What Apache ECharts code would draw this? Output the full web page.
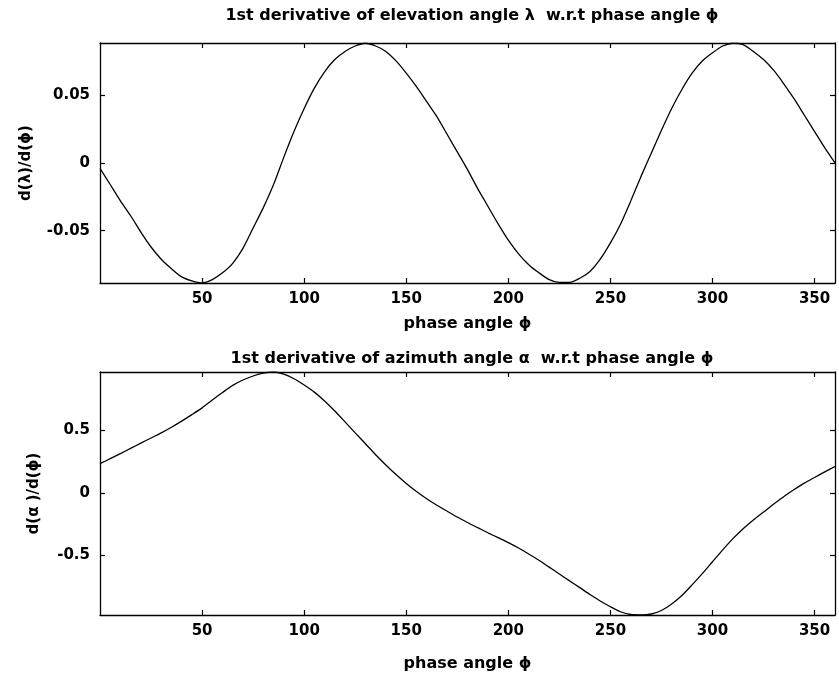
<!DOCTYPE html>
<html>
<head>
<meta charset="utf-8">
<script src="https://cdn.jsdelivr.net/npm/echarts@6/dist/echarts.min.js"></script>
<style>
  html, body { margin: 0; padding: 0; background: #fff; }
  #chart { width: 839px; height: 677px; }
</style>
</head>
<body>
<div id="chart"></div>
<script>
// phase angle (deg) and the two derivative curves
var elevPhase = [0, 5, 10, 15, 20, 25, 30, 35, 40, 45, 50, 55, 60, 65, 70, 75, 80, 85, 90, 95,
  100, 105, 110, 115, 120, 125, 130, 135, 140, 145, 150, 155, 160, 165, 170, 175, 180, 185, 190, 195,
  200, 205, 210, 215, 220, 225, 230, 235, 240, 245, 250, 255, 260, 265, 270, 275, 280, 285, 290, 295,
  300, 305, 310, 315, 320, 325, 330, 335, 340, 345, 350, 355, 360];
var elevRate = [-0.004, -0.016, -0.028, -0.039, -0.051, -0.062, -0.071, -0.078, -0.084, -0.087,
  -0.0885, -0.086, -0.081, -0.074, -0.063, -0.048, -0.033, -0.016, 0.004, 0.023,
  0.040, 0.055, 0.067, 0.076, 0.082, 0.086, 0.088, 0.086, 0.082, 0.075,
  0.066, 0.056, 0.045, 0.034, 0.021, 0.008, -0.005, -0.019, -0.032, -0.045,
  -0.057, -0.067, -0.075, -0.081, -0.086, -0.088, -0.088, -0.085, -0.080, -0.071,
  -0.059, -0.045, -0.028, -0.010, 0.007, 0.024, 0.040, 0.054, 0.066, 0.075,
  0.081, 0.086, 0.088, 0.087, 0.082, 0.076, 0.068, 0.058, 0.047, 0.035,
  0.023, 0.011, 0.000];

var azimPhase = elevPhase;
var azimRate = [0.235, 0.275, 0.316, 0.358, 0.400, 0.441, 0.482, 0.527, 0.576, 0.628,
  0.682, 0.745, 0.805, 0.862, 0.905, 0.937, 0.960, 0.969, 0.952, 0.915,
  0.865, 0.808, 0.737, 0.657, 0.570, 0.482, 0.395, 0.307, 0.225, 0.148,
  0.077, 0.013, -0.045, -0.097, -0.145, -0.192, -0.236, -0.277, -0.318, -0.357,
  -0.397, -0.440, -0.488, -0.538, -0.593, -0.648, -0.703, -0.757, -0.812, -0.864,
  -0.910, -0.950, -0.972, -0.975, -0.968, -0.940, -0.888, -0.820, -0.735, -0.645,
  -0.550, -0.455, -0.365, -0.285, -0.215, -0.152, -0.088, -0.027, 0.028, 0.080,
  0.125, 0.170, 0.213];

var xTicks = [50, 100, 150, 200, 250, 300, 350];
var elevTicks = [-0.05, 0, 0.05];
var azimTicks = [-0.5, 0, 0.5];

var titles = [
  "1st derivative of elevation angle \u03bb  w.r.t phase angle \u03d5",
  "1st derivative of azimuth angle \u03b1  w.r.t phase angle \u03d5"
];
var xName = "phase angle \u03d5";
var yNames = ["d(\u03bb)/d(\u03d5)", "d(\u03b1 )/d(\u03d5)"];

var FONT = "DejaVu Sans";

function zip(xs, ys) {
  return xs.map(function (x, i) { return [x, ys[i]]; });
}

function xAxisFor(grid, pos, withLabels, gap) {
  return {
    type: "value", gridIndex: grid, position: pos, min: 0, max: 360,
    name: withLabels ? xName : "", nameLocation: "middle", nameGap: gap,
    nameTextStyle: { color: "#000", fontFamily: FONT, fontWeight: "bold", fontSize: 16 },
    axisLine: { show: true, onZero: false, lineStyle: { color: "#000", width: 1.3 } },
    axisTick: { show: true, inside: true, length: 5, customValues: xTicks,
      lineStyle: { color: "#000", width: 1.2 } },
    axisLabel: { show: withLabels, customValues: xTicks, margin: 9, color: "#000",
      fontFamily: FONT, fontWeight: "bold", fontSize: 15 },
    splitLine: { show: false }
  };
}

function yAxisFor(grid, pos, lo, hi, ticks, withLabels, name, gap) {
  return {
    type: "value", gridIndex: grid, position: pos, min: lo, max: hi,
    name: withLabels ? name : "", nameLocation: "middle", nameGap: gap, nameRotate: 90,
    nameTextStyle: { color: "#000", fontFamily: FONT, fontWeight: "bold", fontSize: 15 },
    axisLine: { show: true, onZero: false, lineStyle: { color: "#000", width: 1.3 } },
    axisTick: { show: true, inside: true, length: 5, customValues: ticks,
      lineStyle: { color: "#000", width: 1.2 } },
    axisLabel: { show: withLabels, customValues: ticks, margin: 10, color: "#000",
      fontFamily: FONT, fontWeight: "bold", fontSize: 15 },
    splitLine: { show: false }
  };
}

var option = {
  backgroundColor: "#fff",
  animation: false,
  title: [
    { text: titles[0], left: 467, top: 3, textAlign: "center",
      textStyle: { color: "#000", fontFamily: FONT, fontWeight: "bold", fontSize: 16 } },
    { text: titles[1], left: 467, top: 346, textAlign: "center",
      textStyle: { color: "#000", fontFamily: FONT, fontWeight: "bold", fontSize: 16 } }
  ],
  grid: [
    { left: 100, right: 4, top: 43, height: 240 },
    { left: 100, right: 4, top: 372, height: 243 }
  ],
  xAxis: [
    xAxisFor(0, "bottom", true, 33),
    xAxisFor(0, "top", false, 0),
    xAxisFor(1, "bottom", true, 41),
    xAxisFor(1, "top", false, 0)
  ],
  yAxis: [
    yAxisFor(0, "left", -0.0885, 0.0882, elevTicks, true, yNames[0], 66),
    yAxisFor(0, "right", -0.0885, 0.0882, elevTicks, false, "", 0),
    yAxisFor(1, "left", -0.976, 0.969, azimTicks, true, yNames[1], 58),
    yAxisFor(1, "right", -0.976, 0.969, azimTicks, false, "", 0)
  ],
  series: [
    { type: "line", xAxisIndex: 0, yAxisIndex: 0, data: zip(elevPhase, elevRate),
      showSymbol: false, smooth: 0.25, lineStyle: { color: "#000", width: 1.3 } },
    { type: "line", xAxisIndex: 2, yAxisIndex: 2, data: zip(azimPhase, azimRate),
      showSymbol: false, smooth: 0.25, lineStyle: { color: "#000", width: 1.3 } }
  ]
};

var myChart = echarts.init(document.getElementById("chart"));
myChart.setOption(option);
</script>
</body>
</html>
